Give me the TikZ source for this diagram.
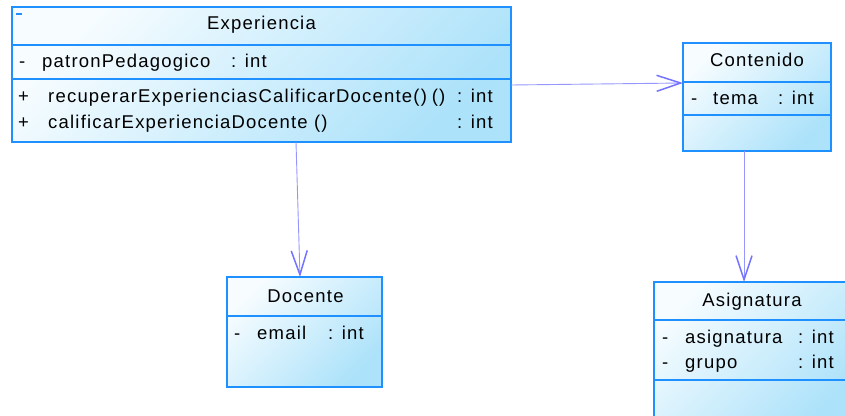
\documentclass[tikz,border=0pt]{standalone}
\usepackage{fontspec}
\setmainfont{Liberation Sans}[LetterSpace=6.5]
\usetikzlibrary{arrows.meta,calc}
\definecolor{umlborder}{RGB}{30,144,255}
\definecolor{umltop}{RGB}{246,252,255}
\definecolor{umlbot}{RGB}{172,226,250}
\definecolor{conncol}{RGB}{150,150,255}
\definecolor{tipcol}{RGB}{115,115,255}
\begin{document}
\begin{tikzpicture}[x=1pt,y=-1pt,
  umlbox/.style={draw=umlborder, line width=1.5pt, top color=umltop, bottom color=umlbot, shading angle=45, inner sep=0pt, outer sep=0pt, anchor=north west},
  sepline/.style={draw=umlborder, line width=1.5pt},
  txt/.style={anchor=base west, inner sep=0pt, font=\fontsize{18.5}{21}\selectfont},
  ttl/.style={anchor=base, inner sep=0pt, font=\fontsize{18.5}{21}\selectfont},
  conn/.style={draw=conncol, line width=0.9pt, -{Straight Barb[length=24pt,width=16pt,line width=1.5pt,color=tipcol]}}]
\useasboundingbox (0,0) rectangle (845,415);
\clip (0,0) rectangle (845,415);

% Experiencia
\node[umlbox, minimum width=499pt, minimum height=135pt] (exp) at (12,7) {};
\draw[sepline] (exp.west |- 0,45) -- (exp.east |- 0,45);
\draw[sepline] (exp.west |- 0,79) -- (exp.east |- 0,79);
\draw[umlborder, line width=1.2pt] (16,14) -- (21.5,14);
\node[ttl] (expt) at (261.5,29.5) {Experiencia};
\node[txt] (expa1) at (19,67.5) {-};
\node[txt] (expa2) at (42,67.5) {patronPedagogico};
\node[txt] (expa3) at (231,67.5) {: int};
\node[txt] (expm1a) at (18,102) {+};
\node[txt] (expm1b) at (48,102) {recuperarExperienciasCalificarDocente()\hspace{-1.5pt} ()};
\node[txt] (expm1c) at (457,102) {: int};
\node[txt] (expm2a) at (18,128) {+};
\node[txt] (expm2b) at (48,128) {calificarExperienciaDocente ()};
\node[txt] (expm2c) at (457,128) {: int};

% Contenido
\node[umlbox, minimum width=148pt, minimum height=108pt] (cont) at (683,43) {};
\draw[sepline] (cont.west |- 0,82) -- (cont.east |- 0,82);
\draw[sepline] (cont.west |- 0,115) -- (cont.east |- 0,115);
\node[ttl] (contt) at (757,66) {Contenido};
\node[txt] (conta1) at (691,104) {-};
\node[txt] (conta2) at (713,104) {tema};
\node[txt] (conta3) at (778,104) {: int};

% Docente
\node[umlbox, minimum width=155pt, minimum height=110pt] (doc) at (227,277) {};
\draw[sepline] (doc.west |- 0,316) -- (doc.east |- 0,316);
\node[ttl] (doct) at (305.5,302) {Docente};
\node[txt] (doca1) at (234,339) {-};
\node[txt] (doca2) at (257,339) {email};
\node[txt] (doca3) at (328,339) {: int};

% Asignatura
\node[umlbox, minimum width=196pt, minimum height=150pt] (asig) at (654,282) {};
\draw[sepline] (asig.west |- 0,320) -- (asig.east |- 0,320);
\draw[sepline] (asig.west |- 0,380) -- (asig.east |- 0,380);
\node[ttl] (asigt) at (752,306) {Asignatura};
\node[txt] (asiga1) at (662,343) {-};
\node[txt] (asiga2) at (685,343) {asignatura};
\node[txt] (asiga3) at (798,343) {: int};
\node[txt] (asigb1) at (662,368) {-};
\node[txt] (asigb2) at (685,368) {grupo};
\node[txt] (asigb3) at (798,368) {: int};

% connectors
\draw[conn] ([yshift=-10.5pt]exp.east) -- ([yshift=14pt]cont.west);
\draw[conn] ([xshift=34.5pt]exp.south) -- ([xshift=-4.5pt]doc.north);
\draw[conn] ([xshift=-13pt]cont.south) -- ([xshift=-8pt]asig.north);
\end{tikzpicture}
\end{document}
